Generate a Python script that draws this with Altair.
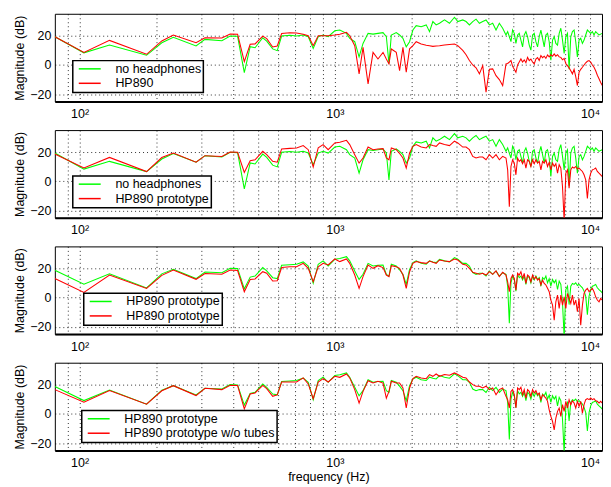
import altair as alt
import pandas as pd

FONT = "Liberation Sans"

# frequency grid (Hz) shared by all measured curves
freq_hz = [80, 104, 131, 183, 210, 233, 286, 310, 361, 389, 416, 442,
           466, 487, 522, 541, 571, 595, 619, 667, 708, 752, 787, 823, 861, 900, 942,
           1000, 1046, 1111, 1144, 1197, 1245, 1290, 1350, 1412, 1476, 1545, 1592, 1630, 1665,
           1741, 1794, 1849, 1905, 1963,
           2023, 2084, 2180, 2281, 2350, 2422, 2495, 2572, 2690, 2814, 2943,
           3033, 3172, 3268, 3368, 3471, 3576, 3686, 3798, 3913,
           4033, 4155, 4282, 4412, 4547, 4685, 4756, 4828, 4900, 4973,
           5049, 5124, 5202, 5280, 5360, 5441, 5523, 5607, 5691, 5778, 5865, 5954,
           6044, 6136, 6229, 6323, 6419, 6516, 6614, 6714, 6815, 6918,
           7023, 7130, 7238, 7346, 7458, 7570, 7684, 7801, 7917,
           8037, 8159, 8279, 8405, 8531, 8660, 8790, 8923,
           9058, 9194, 9335, 9475, 9618, 9763, 9911,
           10060, 10212, 10366, 10522, 10681, 10844, 11007, 11173, 11342, 11512, 11686, 11862, 12040]

no_headphones_db = [19.3, 8.3, 13.6, 6.6, 15.2, 18.9, 13.0, 17.5, 16.6, 19.8, 19.6, -5.2,
    12.5, 11.8, 18.6, 16.3, 11.0, 9.8, 19.8, 20.3, 19.8, 20.5, 19.3,
    11.3, 19.3, 20.5, 19.3, 23.4, 23.9, 21.6, 18.2, 15.9, 5.5, 14.7, 21.6, 21.1, 21.6, 22.1,
    19.3, 0.9, 20.5, 22.1, 20.5, 18.2, 12.4, 15.9, 23.9, 26.9, 26.2, 27.4, 22.8, 29.7, 27.4,
    28.5, 30.8, 28.5, 32.6, 29.7, 30.8, 29.7, 27.4, 29.7, 31.3, 28.5, 29.7, 30.8, 27.4, 28.5,
    23.9, 28.5, 25.1, 20.5,
    22.8, 19.3, 15.9, 23.9, 21.6, 14.7, 20.5, 21.6, 17.0, 12.4, 20.5, 22.8, 19.3, 13.6, 10.1,
    20.5, 21.6, 15.9, 12.4, 19.3, 23.9, 18.2, 12.4, 20.5, 21.6, 15.9, 3.2, 17.0, 19.3, 14.7,
    13.6, 21.6, 25.1, 17.0, 7.8, 19.3, 21.6, -3.0, 19.3, 22.8, 23.9, 15.9, 5.5, 17.0, 18.2,
    14.7, 17.0, 20.5, 23.9, 22.8, 21.6, 22.8, 20.5, 22.8, 21.6, 20.5, 21.1, 21.6, 20.5, 21.1,
    21.6, 21.0, 21.1]

hp890_db = [19.3, 8.6, 16.8, 7.3, 16.4, 20.4, 15.2, 18.6, 18.4, 21.2, 21.0, 2.3,
    14.1, 14.4, 19.7, 18.0, 12.3, 13.0, 21.5, 22.0, 21.8, 21.0, 20.0,
    13.2, 20.0, 20.0, 20.0, 20.5, 21.0, 22.3, 20.0, 13.2, -6.1, 12.0, -13.0, 8.6, 4.1, 8.6,
    4.0, 0.7, 10.9, 8.6, -3.9, 12.0, -5.0, 11.0, 13.2, 15.9, 14.3, 13.5, 13.2, 12.7, 13.0,
    13.2, 13.6, 14.0, 14.3, 13.2, 10.0, 7.0, 3.0, 0.0, -2.0, -6.1, -0.5, -18.6, -3.0, -2.7,
    -7.3, -10.0, -14.1, 0.7,
    1.0, 2.0, 3.0, -1.0, -3.0, -5.0, 0.0, 2.0, 4.1, 2.0, 3.5, 1.5, 5.2, 3.0, 4.0,
    2.0, 0.7, 4.0, 5.0, 3.0, 6.4, 5.0, 6.0, 4.5, 6.8, 5.5, 7.0, 6.0, 7.5, 6.0,
    7.0, 5.5, 5.2, 3.5, 4.5, 1.0, -0.5, -2.0, -4.0, -6.1, -3.0, -8.0, -14.1, -5.0, -3.0,
    -1.6, 0.0, 1.5, 2.5, 3.0, 2.0, 0.0, -1.6, -4.0, -7.0, -9.5, -12.0, -14.0, -16.4, -20.0,
    -24.3, -18.0, -13.0]

hp890_proto_db = [18.7, 9.1, 16.3, 6.6, 16.2, 19.3, 13.0, 17.5, 17.0, 20.0, 19.8, 6.0,
    14.0, 14.7, 20.5, 18.2, 13.6, 13.0, 22.1, 22.5, 22.8, 24.4, 21.6,
    9.7, 22.8, 25.1, 21.6, 26.2, 26.7, 28.0, 25.1, 18.2, 12.4, 15.9, 23.4, 21.6, 22.1, 22.3,
    15.9, 14.7, 22.8, 21.6, 19.0, 15.9, 9.0, 19.3, 23.9, 25.1, 23.4, 22.8, 25.1, 24.4, 23.9,
    26.2, 25.1, 24.4, 27.4, 26.2, 23.4, 23.4, 21.6, 17.0, 15.9, 16.6, 16.6, 14.7, 18.2, 15.9,
    18.2, 14.7, 17.0, 15.9,
    7.8, -17.5, 10.1, 14.7, 12.4, 4.4, 15.9, 13.6, 14.7, 12.0, 14.7, 9.0, 14.7, 13.6, 10.1,
    14.7, 12.0, 14.7, 12.4, 13.6, 7.8, 13.6, 12.4, 14.7, 10.1, 12.9, 7.8, 12.4, 10.1, 12.0,
    5.5, 11.3, 9.0, -3.7, -27.0, 5.5, 7.8, -4.8, 7.8, 9.7, 9.0, 10.1, 8.3, 9.0, 7.8,
    6.7, 4.4, 0.9, -11.7, 0.9, 5.5, 7.8, 8.3, 9.0, 6.7, 5.5, 4.4, 3.2, 0.9, -0.2,
    -1.4, 0.9, 2.1]

hp890_proto2_db = [13.0, 3.5, 15.4, 6.2, 15.2, 18.8, 12.5, 16.5, 16.0, 18.8, 18.5, 4.0,
    12.4, 12.7, 17.7, 16.6, 11.3, 11.5, 20.5, 21.1, 21.1, 23.4, 20.0,
    10.8, 21.1, 23.4, 22.3, 26.4, 24.6, 26.4, 23.4, 15.4, 6.3, 14.3, 22.3, 20.0, 21.8, 20.5,
    15.4, 14.3, 21.8, 21.1, 20.0, 15.4, 6.3, 17.7, 23.4, 24.6, 23.9, 23.4, 25.0, 24.1, 23.4,
    25.7, 25.0, 24.6, 26.4, 25.7, 22.7, 22.3, 20.0, 17.3, 16.6, 15.9, 16.6, 15.4, 17.7, 15.9,
    18.2, 14.3, 17.3, 15.4,
    10.8, 4.0, 13.1, 15.4, 13.1, 5.1, 16.6, 15.4, 17.7, 13.1, 16.6, 9.7, 15.4, 14.3, 10.8,
    15.4, 12.7, 14.3, 12.0, 13.1, 8.6, 12.0, 9.7, 8.6, 6.3, 4.0, -1.7, -5.2, -15.5, -2.9,
    1.7, -7.5, 1.7, -5.2, 0.5, -7.5, 2.8, -0.6, -4.0, 1.7, -5.2, -1.7, -9.7, -0.6, -18.9,
    -5.2, 2.8, 5.1, 6.3, 4.0, 5.1, 6.3, 4.0, 0.5, -1.7, -2.9, -0.6, -1.7, 1.7, 4.0,
    5.1, 6.3, 6.8]

hp890_notubes_db = [16.6, 8.0, 15.9, 6.6, 15.8, 19.3, 12.5, 17.5, 16.6, 19.6, 19.4, 3.4,
    13.6, 14.3, 19.5, 17.3, 12.0, 13.0, 21.8, 21.8, 21.8, 24.6, 20.5,
    10.4, 21.8, 24.1, 21.8, 25.7, 25.0, 27.3, 24.6, 16.6, 7.4, 15.4, 22.7, 21.1, 22.3, 21.1,
    10.8, 15.4, 22.3, 21.1, 21.1, 17.7, 4.0, 17.7, 24.1, 25.7, 24.6, 24.1, 26.9, 25.7, 27.3,
    25.7, 26.9, 26.4, 28.0, 26.9, 25.0, 24.6, 21.8, 20.0, 18.9, 18.9, 17.7, 18.9, 16.6, 17.7,
    13.1, 16.6, 17.7, 12.0,
    9.7, 4.0, 15.4, 16.6, 13.1, 4.0, 17.7, 16.6, 18.2, 13.1, 16.6, 10.8, 16.6, 15.4, 12.0,
    16.6, 14.3, 15.9, 13.1, 14.3, 9.7, 13.1, 12.0, 10.8, 8.6, 2.8, -1.7, -5.2, -11.0, -2.9,
    1.7, 4.0, -1.7, 6.3, 1.7, 8.6, 4.0, 9.7, 6.3, 9.0, 7.4, 4.0, 8.6, 5.1, 8.6,
    0.5, 6.3, 9.7, 10.4, 9.7, 10.8, 9.7, 10.4, 9.0, 8.6, 7.4, 8.6, 7.4, 8.0, 7.4,
    8.6, 7.8, 8.0]

x_grid = [90, 100, 200, 300, 400, 500, 600, 700, 800, 900,
          1000, 2000, 3000, 4000, 5000, 6000, 7000, 8000, 9000, 10000]
y_ticks = [-20, 0, 20]
x_label_expr = ("datum.value == 100 ? '10\u00b2' : datum.value == 1000 ? '10\u00b3' : "
                "datum.value == 10000 ? '10\u2074' : ''")

# (green name, green data, red name, red data, legend x, legend y)
panels = [
    ("no headphones", no_headphones_db, "HP890", hp890_db, 18, 47),
    ("no headphones", no_headphones_db, "HP890 prototype", hp890_proto_db, 18, 46),
    ("HP890 prototype", hp890_proto_db, "HP890 prototype", hp890_proto2_db, 29, 47),
    ("HP890 prototype", hp890_proto_db, "HP890 prototype w/o tubes", hp890_notubes_db, 27, 48),
]

charts = []
for i, (g_name, g_vals, r_name, r_vals, lx, ly) in enumerate(panels):
    last = i == len(panels) - 1
    rows = [{"f": f, "db": v, "s": "g"} for f, v in zip(freq_hz, g_vals)]
    rows += [{"f": f, "db": v, "s": "r"} for f, v in zip(freq_hz, r_vals)]
    df = pd.DataFrame(rows)
    legend_expr = ("datum.value == 'g' ? '" + g_name + "\u00a0' : '" + r_name + "\u00a0'")
    x_enc = alt.X("f:Q",
                  scale=alt.Scale(type="log", domain=[80, 11140], nice=False),
                  axis=alt.Axis(values=x_grid, labelExpr=x_label_expr, labelOverlap=False,
                                title="frequency (Hz)" if last else None,
                                domain=True, domainColor="black", domainWidth=2,
                                labelPadding=6, titlePadding=2))
    y_enc = alt.Y("db:Q", scale=alt.Scale(domain=[-25, 35], nice=False),
                  axis=alt.Axis(values=y_ticks, title="Magnitude (dB)", domain=False,
                                labelPadding=4, titlePadding=3))
    c_enc = alt.Color("s:N", scale=alt.Scale(domain=["g", "r"], range=["#00ff00", "#ff0000"]),
                      legend=alt.Legend(orient="none", legendX=lx, legendY=ly, title=None,
                                        symbolType="M-2.2,0L2.2,0", symbolSize=100,
                                        symbolStrokeWidth=1.5, symbolOffset=8.75,
                                        labelOffset=19.5, labelFont=FONT, labelFontSize=12.5,
                                        labelColor="black", labelExpr=legend_expr, labelLimit=400,
                                        padding=2, rowPadding=1.5, strokeColor="black",
                                        fillColor="white"))
    base = alt.Chart(df).mark_line(strokeWidth=1.05, clip=True).encode(x=x_enc, y=y_enc, color=c_enc)
    layer = alt.layer(base.transform_filter("datum.s == 'g'"),
                      base.transform_filter("datum.s == 'r'")).properties(width=549, height=88)
    charts.append(layer)

chart = (alt.vconcat(*charts, spacing=28.7, bounds="flush")
         .resolve_scale(color="independent")
         .resolve_legend(color="independent")
         .properties(padding={"left": 5, "top": 4, "right": 0, "bottom": 0})
         .configure_view(stroke="black", strokeWidth=1)
         .configure_axis(labelFont=FONT, titleFont=FONT, labelFontSize=12.5, titleFontSize=12.5,
                         titleFontWeight="normal", labelColor="black", titleColor="black",
                         grid=True, gridColor="black", gridDash=[1, 3], gridOpacity=0.8,
                         ticks=False)
         .configure_legend(strokeWidth=1.5))

chart.save("out.html", embed_options={"renderer": "svg", "actions": False})
